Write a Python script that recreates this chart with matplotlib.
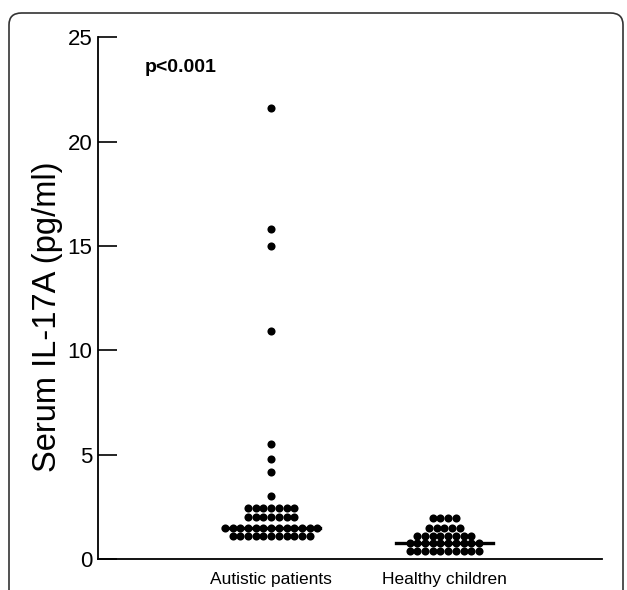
import numpy as np
import matplotlib
matplotlib.use("Agg")
import matplotlib.pyplot as plt
from matplotlib.patches import FancyBboxPatch

plt.rcParams['font.family'] = ['Liberation Sans', 'DejaVu Sans']

# values (pg/ml)
groups = ["Autistic patients", "Healthy children"]
autistic = ([21.6, 15.8, 15.0, 10.9, 5.5, 4.8, 4.15, 3.0]
            + [2.45] * 7 + [2.0] * 7 + [1.5] * 13 + [1.1] * 11)
healthy = [1.95] * 4 + [1.5] * 5 + [1.1] * 8 + [0.75] * 10 + [0.38] * 10
yticks = [0, 5, 10, 15, 20, 25]


def dot_offsets(values, step):
    # spread equal values side by side, centred on the group position
    values = np.asarray(values)
    offs = np.zeros(len(values))
    for v in np.unique(values):
        idx = np.where(values == v)[0]
        n = len(idx)
        offs[idx] = (np.arange(n) - (n - 1) / 2) * step
    return offs


fig = plt.figure(figsize=(6.27, 5.9), dpi=100)
ax = fig.add_axes([0.1563, 0.0525, 0.8037, 0.8845])

step = 0.0445
for i, vals in enumerate([autistic, healthy]):
    pos = i + 1
    ax.scatter(pos + dot_offsets(vals, step), vals, s=34, color='black',
               linewidths=0, zorder=3)
    med = np.median(vals)
    ax.plot([pos - 0.28, pos + 0.28], [med, med], color='black', lw=2.4,
            zorder=4)

ax.set_xlim(0, 2.91)
ax.set_ylim(0, 25)
ax.set_yticks(yticks)
ax.set_xticks([1, 2])
ax.set_xticklabels(groups, fontsize=12.5)
ax.tick_params(axis='x', length=0, pad=9)
ax.tick_params(axis='y', direction='in', length=14, width=1.2,
               labelsize=16, pad=4)
for side in ['top', 'right']:
    ax.spines[side].set_visible(False)
for side in ['left', 'bottom']:
    ax.spines[side].set_linewidth(1.3)

fig.text(48 / 627, 1 - 317 / 590, "Serum IL-17A (pg/ml)", fontsize=23.5,
         rotation=90, ha='center', va='center')
ax.text(0.27, 23.55, "p<0.001", fontsize=14, fontweight='bold',
        va='center', ha='left')

border = FancyBboxPatch((9 / 627, -0.1), 614 / 627, 1.0 - 13 / 590 + 0.1,
                        boxstyle="round,pad=0,rounding_size=0.02",
                        transform=fig.transFigure, fill=False,
                        edgecolor='#333333', lw=1.2, clip_on=False)
fig.patches.append(border)

fig.savefig("out.png", dpi=100)
